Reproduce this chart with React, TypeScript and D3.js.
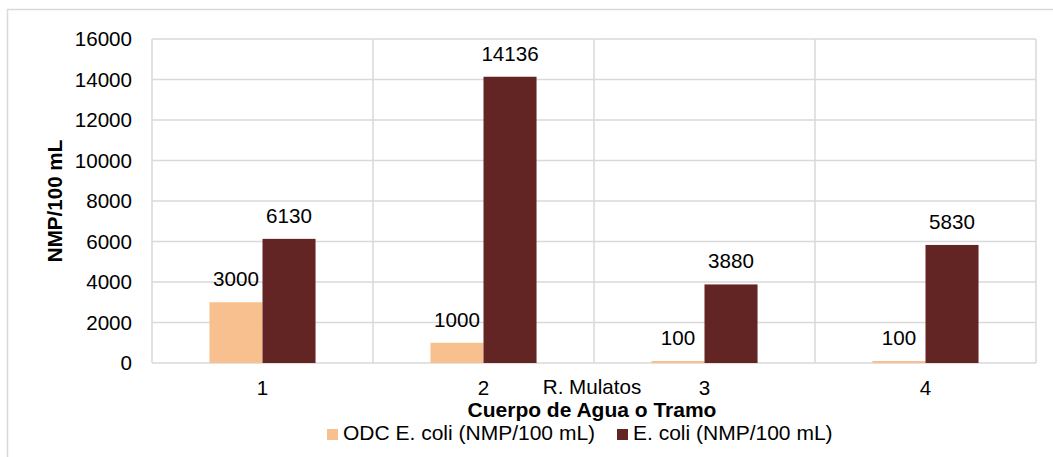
import React from "react";
import * as d3 from "d3";

const categories = ["1", "2", "3", "4"];
const seriesNames = ["ODC E. coli (NMP/100 mL)", "E. coli (NMP/100 mL)"];
const odcValues = [3000, 1000, 100, 100];
const ecoliValues = [6130, 14136, 3880, 5830];
const yTicks = [0, 2000, 4000, 6000, 8000, 10000, 12000, 14000, 16000];
const colors = ["#F9C08F", "#632523"];
const annotation = "R. Mulatos";

export default function App() {
  const W = 1053, H = 457;
  const left = 152, right = 1036, top = 39, bottom = 363;
  const x = d3.scaleBand<string>().domain(categories).range([left, right]).paddingInner(0).paddingOuter(0);
  const bw = x.bandwidth();
  const inner = d3.scaleBand<number>().domain([0, 1]).range([bw * 0.26, bw * 0.74]).padding(0);
  const y = d3.scaleLinear().domain([0, 16000]).range([bottom, top]);
  const series = [odcValues, ecoliValues];
  const font = "'Liberation Sans', Arial, sans-serif";
  const fs = 20.6;
  const grid = "#D9D9D9";

  return (
    <svg width={W} height={H} style={{ position: "absolute", left: 0, top: 0, background: "#fff" }} fontFamily={font}>
      <rect x={7.5} y={9.5} width={1100} height={500} fill="#fff" stroke={grid} strokeWidth={1.5} />
      {yTicks.map((t) => (
        <line key={"g" + t} x1={left} x2={right} y1={y(t)} y2={y(t)} stroke={grid} strokeWidth={1.5} />
      ))}
      {[...categories.map((c) => x(c)!), right].map((xx, i) => (
        <line key={"v" + i} x1={xx} x2={xx} y1={top} y2={bottom} stroke={grid} strokeWidth={1.5} />
      ))}
      {yTicks.map((t) => (
        <text key={"t" + t} x={132} y={y(t)} dy="0.35em" textAnchor="end" fontSize={fs} fill="#000">
          {t}
        </text>
      ))}
      {series.map((vals, si) =>
        vals.map((v, ci) => {
          const bx = x(categories[ci])! + inner(si)!;
          return (
            <g key={`b${si}-${ci}`}>
              <rect x={bx} y={y(v)} width={inner.bandwidth()} height={bottom - y(v)} fill={colors[si]} />
              <text x={bx + inner.bandwidth() / 2} y={y(v) - 16} textAnchor="middle" fontSize={fs} fill="#000">
                {v}
              </text>
            </g>
          );
        })
      )}
      {categories.map((c) => (
        <text key={"c" + c} x={x(c)! + bw / 2} y={395} textAnchor="middle" fontSize={fs} fill="#000">
          {c}
        </text>
      ))}
      <text x={x("2")! + bw - 2} y={394} textAnchor="middle" fontSize={fs} fill="#000">
        {annotation}
      </text>
      <text x={(left + right) / 2 - 2} y={417} textAnchor="middle" fontSize={21} fontWeight="bold" fill="#000">
        Cuerpo de Agua o Tramo
      </text>
      <text transform={`translate(62, ${(top + bottom) / 2}) rotate(-90)`} textAnchor="middle" fontSize={fs} fontWeight="bold" fill="#000">
        NMP/100 mL
      </text>
      {[327, 617].map((lx, i) => (
        <g key={"l" + i}>
          <rect x={lx} y={429} width={11} height={11} fill={colors[i]} />
          <text x={lx + 16} y={440} fontSize={21} fill="#000">
            {seriesNames[i]}
          </text>
        </g>
      ))}
    </svg>
  );
}
